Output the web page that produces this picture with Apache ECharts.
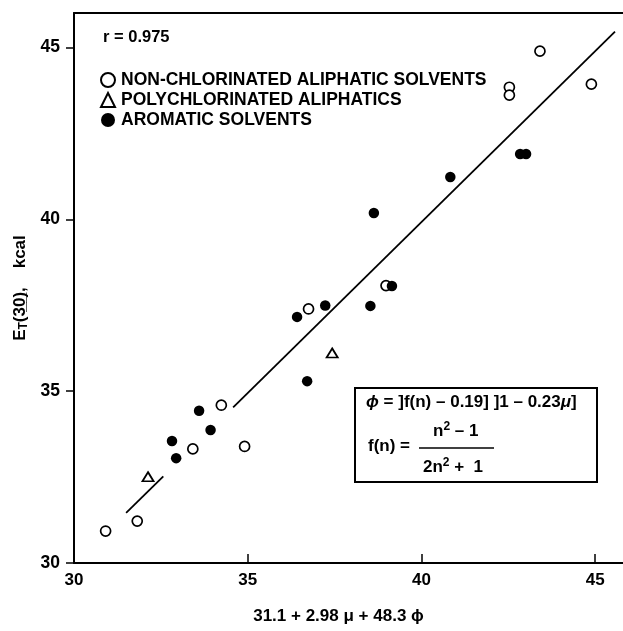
<!DOCTYPE html>
<html><head><meta charset="utf-8">
<script src="https://cdn.jsdelivr.net/npm/echarts@6/dist/echarts.min.js"></script>
<style>html,body{margin:0;padding:0;background:#fff}#c{width:623px;height:631px}</style>
</head><body><div id="c"></div>
<script>
// Data: [x = 31.1 + 2.98μ + 48.3ϕ, y = ET(30) kcal]
var nonChlorinated = [[30.91,30.93],[31.82,31.22],[33.42,33.32],[34.24,34.59],[34.91,33.39],[36.75,37.39],[38.98,38.07],[42.53,43.84],[42.53,43.61],[43.41,44.89],[44.89,43.93]];
var polychlorinated = [[32.13,32.51],[37.43,36.11]];
var aromatic = [[32.82,33.55],[32.94,33.05],[33.60,34.43],[33.93,33.87],[36.42,37.16],[37.23,37.49],[36.71,35.29],[38.53,37.48],[39.15,38.06],[38.63,40.18],[40.83,41.23],[42.84,41.90],[43.01,41.90]];
var fitLow = [[31.50,31.46],[32.57,32.52]];
var fitHigh = [[34.58,34.53],[45.57,45.46]];
var seriesNames = ['NON-CHLORINATED ALIPHATIC SOLVENTS','POLYCHLORINATED ALIPHATICS','AROMATIC SOLVENTS'];
var axisTicks = [30,35,40,45];

var FONT = 'Liberation Sans';
var chart = echarts.init(document.getElementById('c'));
chart.setOption({
  animation:false,
  backgroundColor:'#fff',
  grid:{left:74,top:13,right:0,bottom:68,containLabel:false,outerBoundsMode:'none'},
  legend:{
    orient:'vertical', left:95, top:66, itemGap:2, itemWidth:14, itemHeight:14,
    data:[{name:seriesNames[0],icon:'circle'},{name:seriesNames[1],icon:'triangle'},{name:seriesNames[2],icon:'circle'}],
    textStyle:{fontFamily:FONT,fontWeight:'bold',fontSize:17.5,color:'#000',padding:[0,0,0,1]}
  },
  xAxis:[{
    type:'value', min:30, max:45.8, interval:5,
    axisLine:{lineStyle:{color:'#000',width:2}},
    axisTick:{inside:true,length:9,customValues:axisTicks,lineStyle:{color:'#000',width:1.5}},
    axisLabel:{fontFamily:FONT,fontWeight:'bold',fontSize:17,color:'#000',margin:9,customValues:axisTicks},
    splitLine:{show:false},
    name:'31.1 + 2.98 \u03bc + 48.3 \u03d5', nameLocation:'middle', nameGap:45,
    nameTextStyle:{fontFamily:FONT,fontWeight:'bold',fontSize:17,color:'#000',padding:[0,20,0,0]}
  },{
    type:'value', position:'top', min:30, max:45.8,
    axisLine:{show:true,lineStyle:{color:'#000',width:2}},
    axisTick:{show:false}, axisLabel:{show:false}, splitLine:{show:false}
  }],
  yAxis:{
    type:'value', min:30, max:46, interval:5,
    axisLine:{show:true,lineStyle:{color:'#000',width:2}},
    axisTick:{inside:false,length:8,customValues:axisTicks,lineStyle:{color:'#000',width:1.5}},
    axisLabel:{fontFamily:FONT,fontWeight:'bold',fontSize:17.5,color:'#000',margin:14,customValues:axisTicks},
    splitLine:{show:false},
    name:'{e|E}{t|T}{e|(3\u03320\u0332),    kcal}', nameLocation:'middle', nameGap:42, nameRotate:90,
    nameTextStyle:{fontFamily:FONT,fontWeight:'bold',fontSize:17,color:'#000',
      rich:{e:{fontFamily:FONT,fontWeight:'bold',fontSize:17,color:'#000'},
            t:{fontFamily:FONT,fontWeight:'bold',fontSize:12,color:'#000',padding:[7,0,0,0]}}}
  },
  series:[
    {name:seriesNames[0],type:'scatter',data:nonChlorinated,symbol:'circle',symbolSize:10,
     itemStyle:{color:'#fff',borderColor:'#000',borderWidth:1.7,opacity:1},z:3},
    {name:seriesNames[1],type:'scatter',data:polychlorinated,symbol:'triangle',symbolSize:[11,9],
     itemStyle:{color:'#fff',borderColor:'#000',borderWidth:1.8,opacity:1},z:3},
    {name:seriesNames[2],type:'scatter',data:aromatic,symbol:'circle',symbolSize:10.5,
     itemStyle:{color:'#000',borderColor:'#000',borderWidth:0,opacity:1},z:4},
    {type:'line',data:fitLow,symbol:'none',lineStyle:{color:'#000',width:1.8},z:2},
    {type:'line',data:fitHigh,symbol:'none',lineStyle:{color:'#000',width:1.8},z:2}
  ],
  graphic:[
    {type:'text',left:103,top:29,style:{text:'r = 0.975',fontFamily:FONT,fontWeight:'bold',fontSize:16.5,fill:'#000'}},
    {type:'rect',shape:{x:355,y:388,width:242,height:94},style:{fill:'#fff',stroke:'#000',lineWidth:2},z:10},
    {type:'text',x:366,y:394,z:11,style:{text:'{i|\u03d5} = ]f(n) \u2013 0.19] ]1 \u2013 0.23{i|\u03bc}]',
      fontFamily:FONT,fontWeight:'bold',fontSize:17,fill:'#000',
      rich:{i:{fontFamily:FONT,fontStyle:'italic',fontWeight:'bold',fontSize:17}}}},
    {type:'text',x:368,y:438,z:11,style:{text:'f(n) =',fontFamily:FONT,fontWeight:'bold',fontSize:17,fill:'#000'}},
    {type:'text',x:433,y:421,z:11,style:{text:'n{s|2} \u2013 1',fontFamily:FONT,fontWeight:'bold',fontSize:17,fill:'#000',
      rich:{s:{fontFamily:FONT,fontWeight:'bold',fontSize:12,padding:[0,0,9,0]}}}},
    {type:'line',z:11,shape:{x1:419,y1:448,x2:494,y2:448},style:{stroke:'#000',lineWidth:1.5}},
    {type:'text',x:423,y:457,z:11,style:{text:'2n{s|2} +  1',fontFamily:FONT,fontWeight:'bold',fontSize:17,fill:'#000',
      rich:{s:{fontFamily:FONT,fontWeight:'bold',fontSize:12,padding:[0,0,9,0]}}}}
  ]
});
</script></body></html>
